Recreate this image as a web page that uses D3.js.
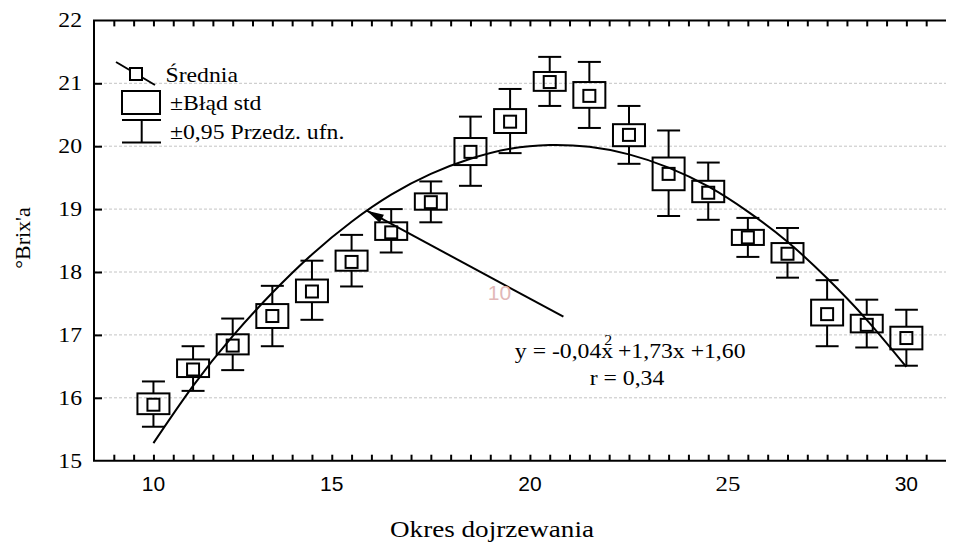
<!doctype html>
<html lang="pl">
<head>
<meta charset="utf-8">
<title>Brix</title>
<script src="https://cdnjs.cloudflare.com/ajax/libs/d3/7.8.5/d3.min.js"></script>
<style>
body { margin: 0; background: #fff; }
.serif { font-family: "Liberation Serif", "Times New Roman", serif; }
.sans { font-family: "Liberation Sans", Arial, sans-serif; }
</style>
</head>
<body>
<div id="chart"></div>
<script>
/* data */
var xIndex = [0, 1, 2, 3, 4, 5, 6, 7, 8, 9, 10, 11, 12, 13, 14, 15, 16, 17, 18, 19];
var means  = [15.89, 16.45, 16.83, 17.30, 17.69, 18.16, 18.63, 19.11, 19.91, 20.39, 21.02, 20.80, 20.18, 19.56, 19.26, 18.55, 18.29, 17.33, 17.16, 16.95];
var seLow  = [15.74, 16.33, 16.69, 17.11, 17.52, 18.02, 18.51, 18.99, 19.70, 20.21, 20.88, 20.61, 20.00, 19.30, 19.11, 18.43, 18.15, 17.15, 17.04, 16.77];
var seHigh = [16.07, 16.61, 17.01, 17.49, 17.88, 18.34, 18.79, 19.25, 20.13, 20.59, 21.18, 21.02, 20.35, 19.82, 19.45, 18.67, 18.46, 17.56, 17.32, 17.13];
var ciLow  = [15.54, 16.11, 16.44, 16.82, 17.24, 17.77, 18.31, 18.79, 19.37, 19.89, 20.64, 20.29, 19.72, 18.89, 18.83, 18.24, 17.91, 16.82, 16.80, 16.51];
var ciHigh = [16.26, 16.82, 17.26, 17.78, 18.18, 18.59, 19.00, 19.44, 20.47, 20.91, 21.42, 21.34, 20.64, 20.25, 19.74, 18.86, 18.70, 17.87, 17.56, 17.40];
// fitted curve, read at each point
var fitValues = [15.28, 16.19, 16.98, 17.67, 18.28, 18.80, 19.23, 19.56, 19.80, 19.96, 20.02, 19.99, 19.87, 19.66, 19.36, 18.96, 18.48, 17.90, 17.24, 16.49];

var xTickLabels = ['10', '15', '20', '25', '30'];
var xTickAt = [0, 4.5, 9.5, 14.5, 19];
var yTicks = [15, 16, 17, 18, 19, 20, 21, 22];
var gridValues = [16, 17, 18, 19, 20, 21];

var legendLabels = ['Średnia', '±Błąd std', '±0,95 Przedz. ufn.'];

/* view */
var size = { width: 957, height: 546 };
var stretch = 1.13; // serif text in the original is drawn wider

var svg = d3.select('#chart').append('svg')
	.attr('width', size.width)
	.attr('height', size.height);

var x = d3.scaleLinear().domain([-1.5, 20]).range([94, 946]);
var y = d3.scaleLinear().domain([15, 22]).range([460.7, 20.4]);

function serif(sel, px, py, txt, fs, anchor) {
	return sel.append('text')
		.attr('class', 'serif')
		.attr('transform', 'translate(' + px + ',' + py + ') scale(' + stretch + ',1)')
		.attr('text-anchor', anchor || 'start')
		.attr('font-size', fs)
		.text(txt);
}

// grid
svg.selectAll('line.grid')
	.data(gridValues)
	.enter().append('line')
	.attr('class', 'grid')
	.attr('x1', x(-1.5)).attr('x2', x(20))
	.attr('y1', function(d){ return y(d); })
	.attr('y2', function(d){ return y(d); })
	.style('stroke', '#c4c4c4')
	.style('stroke-width', 1)
	.style('stroke-dasharray', '3,2');

// axes
var minorTicks = d3.range(-1, 19.6, 0.5);

var axBottom = svg.append('g').attr('transform', 'translate(0,' + y(15) + ')')
	.call(d3.axisBottom(x).tickValues(minorTicks).tickSize(-6).tickFormat(''));
var axTop = svg.append('g').attr('transform', 'translate(0,' + y(22) + ')')
	.call(d3.axisTop(x).tickValues(minorTicks).tickSize(-6).tickFormat(''));
var axLeft = svg.append('g').attr('transform', 'translate(' + x(-1.5) + ',0)')
	.call(d3.axisLeft(y).tickValues(gridValues).tickSize(-8).tickFormat(''));

[axBottom, axTop, axLeft].forEach(function(ax){
	ax.select('.domain').remove();
	ax.selectAll('.tick line').style('stroke', '#000').style('stroke-width', 2);
});

svg.append('line')
	.attr('x1', x(-1.5) - 1).attr('x2', x(20))
	.attr('y1', y(15)).attr('y2', y(15))
	.style('stroke', '#000').style('stroke-width', 2);
svg.append('line')
	.attr('x1', x(-1.5) - 1).attr('x2', x(20))
	.attr('y1', y(22)).attr('y2', y(22))
	.style('stroke', '#000').style('stroke-width', 2);
svg.append('line')
	.attr('x1', x(-1.5)).attr('x2', x(-1.5))
	.attr('y1', y(15)).attr('y2', y(22))
	.style('stroke', '#000').style('stroke-width', 2);

// y labels
yTicks.forEach(function(v){
	serif(svg, 82, y(v) + 7, String(v), 21, 'end');
});

// x labels ('25' is serif in the original)
xTickLabels.forEach(function(lab, i){
	if (lab === '25') {
		serif(svg, x(xTickAt[i]), 491, lab, 22, 'middle');
	} else {
		svg.append('text')
			.attr('class', 'sans')
			.attr('x', x(xTickAt[i]))
			.attr('y', 491)
			.attr('text-anchor', 'middle')
			.attr('font-size', 21)
			.text(lab);
	}
});

// axis titles
serif(svg, 492, 537, 'Okres dojrzewania', 24, 'middle');
svg.append('text')
	.attr('class', 'serif')
	.attr('transform', 'translate(30,238) rotate(-90)')
	.attr('text-anchor', 'middle')
	.attr('font-size', 22)
	.text('°Brix\'a');

// boxes and whiskers
var pts = xIndex.map(function(d, i){
	return { x: d, m: means[i], sl: seLow[i], sh: seHigh[i], cl: ciLow[i], ch: ciHigh[i] };
});

var g = svg.selectAll('g.pt')
	.data(pts)
	.enter().append('g')
	.attr('class', 'pt')
	.style('stroke', '#000')
	.style('stroke-width', 2)
	.style('fill', 'none');

g.append('line')
	.attr('x1', function(d){ return x(d.x); }).attr('x2', function(d){ return x(d.x); })
	.attr('y1', function(d){ return y(d.ch); }).attr('y2', function(d){ return y(d.sh); });
g.append('line')
	.attr('x1', function(d){ return x(d.x); }).attr('x2', function(d){ return x(d.x); })
	.attr('y1', function(d){ return y(d.sl); }).attr('y2', function(d){ return y(d.cl); });
g.append('line')
	.attr('x1', function(d){ return x(d.x) - 11.5; }).attr('x2', function(d){ return x(d.x) + 11.5; })
	.attr('y1', function(d){ return y(d.ch); }).attr('y2', function(d){ return y(d.ch); });
g.append('line')
	.attr('x1', function(d){ return x(d.x) - 11.5; }).attr('x2', function(d){ return x(d.x) + 11.5; })
	.attr('y1', function(d){ return y(d.cl); }).attr('y2', function(d){ return y(d.cl); });
g.append('rect')
	.attr('x', function(d){ return x(d.x) - 16; })
	.attr('width', 32)
	.attr('y', function(d){ return y(d.sh); })
	.attr('height', function(d){ return y(d.sl) - y(d.sh); });
g.append('rect')
	.attr('x', function(d){ return x(d.x) - 6; })
	.attr('width', 12)
	.attr('y', function(d){ return y(d.m) - 6; })
	.attr('height', 12);

// fitted curve
var line = d3.line()
	.x(function(d, i){ return x(xIndex[i]); })
	.y(function(d){ return y(d); })
	.curve(d3.curveNatural);

svg.append('path')
	.datum(fitValues)
	.attr('d', line)
	.style('fill', 'none')
	.style('stroke', '#000')
	.style('stroke-width', 2);

// arrow annotation
var arrowFrom = [10.345, 17.29];
var arrowTo = [5.385, 18.975];
var ax1 = x(arrowFrom[0]), ay1 = y(arrowFrom[1]);
var ax2 = x(arrowTo[0]), ay2 = y(arrowTo[1]);
svg.append('line')
	.attr('x1', ax1).attr('y1', ay1)
	.attr('x2', ax2).attr('y2', ay2)
	.style('stroke', '#000').style('stroke-width', 2);
var ang = Math.atan2(ay2 - ay1, ax2 - ax1);
var hl = 17, hw = 4.5;
var bx = ax2 - hl * Math.cos(ang), by = ay2 - hl * Math.sin(ang);
svg.append('path')
	.attr('d', 'M' + ax2 + ',' + ay2 +
		'L' + (bx - hw * Math.sin(ang)) + ',' + (by + hw * Math.cos(ang)) +
		'L' + (bx + hw * Math.sin(ang)) + ',' + (by - hw * Math.cos(ang)) + 'Z')
	.style('fill', '#000');

svg.append('text')
	.attr('class', 'sans')
	.attr('x', x(8.73)).attr('y', y(17.55))
	.attr('text-anchor', 'middle')
	.attr('font-size', 21)
	.style('fill', '#e2b8b8')
	.text('10');

// equation
var eq = svg.append('text')
	.attr('class', 'serif')
	.attr('transform', 'translate(' + x(12.03) + ',' + y(16.628) + ') scale(' + stretch + ',1)')
	.attr('text-anchor', 'middle')
	.attr('font-size', 21);
eq.append('tspan').text('y = -0,04x');
eq.append('tspan').attr('dx', -8).attr('dy', -13).attr('font-size', 14).text('2');
eq.append('tspan').attr('dy', 13).text(' +1,73x +1,60');
serif(svg, x(11.95), y(16.2), 'r = 0,34', 21, 'middle');

// legend
var lg = svg.append('g')
	.style('stroke', '#000')
	.style('stroke-width', 2)
	.style('fill', 'none');
lg.append('line').attr('x1', 116).attr('y1', 62).attr('x2', 155).attr('y2', 85);
lg.append('rect').attr('x', 130).attr('y', 68).attr('width', 12).attr('height', 12).style('fill', '#fff');
lg.append('rect').attr('x', 122).attr('y', 91).attr('width', 38).attr('height', 23);
lg.append('line').attr('x1', 122).attr('y1', 120).attr('x2', 161).attr('y2', 120);
lg.append('line').attr('x1', 122).attr('y1', 142.5).attr('x2', 161).attr('y2', 142.5);
lg.append('line').attr('x1', 141.7).attr('y1', 120).attr('x2', 141.7).attr('y2', 142.5);

serif(svg, 165.5, 81.5, legendLabels[0], 21);
serif(svg, 170, 110, legendLabels[1], 21);
serif(svg, 170, 138.5, legendLabels[2], 21);
</script>
</body>
</html>
